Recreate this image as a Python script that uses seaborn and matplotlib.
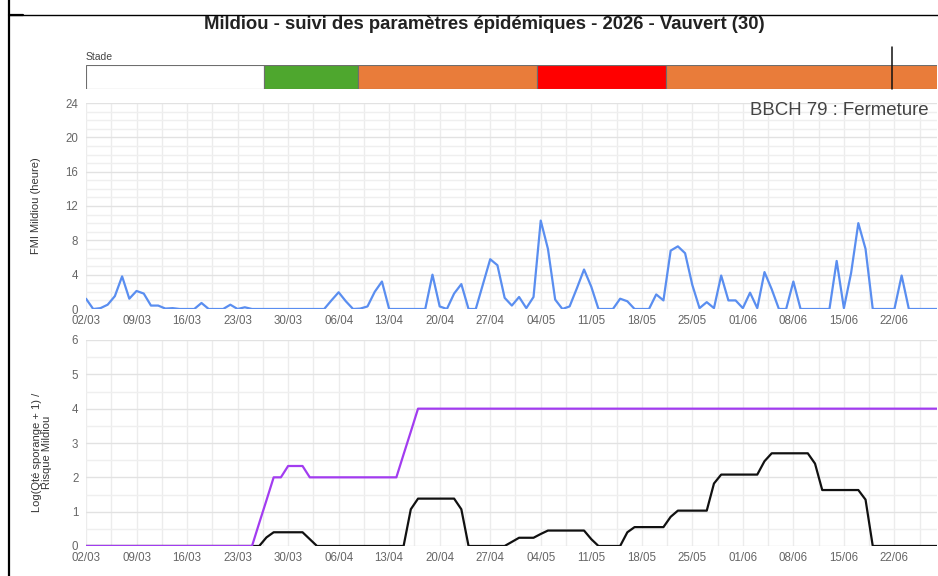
"""Mildiou - suivi des paramètres épidémiques (Vauvert 2026)."""

import matplotlib

matplotlib.use("Agg", force=True)

import matplotlib.dates as mdates
import matplotlib.pyplot as plt
import numpy as np
import pandas as pd
import seaborn as sns
from matplotlib.lines import Line2D
from matplotlib.ticker import FixedLocator, MultipleLocator

# --- data (one value per day from 02/03) ---
date_debut = "2026-03-02"

fmi_heures = [
    1.2, 0.0, 0.1, 0.5, 1.5, 3.8, 1.2, 2.1, 1.8, 0.4,
    0.4, 0.05, 0.1, 0.0, 0.0, 0.0, 0.7, 0.0, 0.0, 0.0,
    0.5, 0.0, 0.2, 0.0, 0.0, 0.0, 0.0, 0.0, 0.0, 0.0,
    0.0, 0.0, 0.0, 0.0, 1.0, 1.95, 0.9, 0.0, 0.05, 0.3,
    2.0, 3.2, 0.0, 0.0, 0.0, 0.0, 0.0, 0.0, 4.0, 0.3,
    0.0, 1.8, 2.9, 0.0, 0.0, 2.9, 5.8, 5.1, 1.3, 0.4,
    1.4, 0.1, 1.4, 10.3, 7.0, 1.1, 0.0, 0.3, 2.4, 4.6,
    2.6, 0.0, 0.0, 0.0, 1.2, 0.9, 0.0, 0.0, 0.0, 1.7,
    1.0, 6.8, 7.3, 6.5, 2.8, 0.1, 0.8, 0.1, 3.9, 1.0,
    1.0, 0.1, 1.9, 0.1, 4.3, 2.3, 0.0, 0.0, 3.2, 0.0,
    0.0, 0.0, 0.0, 0.0, 5.6, 0.1, 4.2, 10.0, 7.0, 0.0,
    0.0, 0.0, 0.0, 3.9, 0.0, 0.0, 0.0, 0.0, 0.0,
]

risque_mildiou = [
    0, 0, 0, 0, 0, 0, 0, 0, 0, 0,
    0, 0, 0, 0, 0, 0, 0, 0, 0, 0,
    0, 0, 0, 0, 0.67, 1.33, 2.0, 2.0, 2.33, 2.33,
    2.33, 2.0, 2.0, 2.0, 2.0, 2.0, 2.0, 2.0, 2.0, 2.0,
    2.0, 2.0, 2.0, 2.0, 2.67, 3.33, 4, 4, 4, 4,
    4, 4, 4, 4, 4, 4, 4, 4, 4, 4,
    4, 4, 4, 4, 4, 4, 4, 4, 4, 4,
    4, 4, 4, 4, 4, 4, 4, 4, 4, 4,
    4, 4, 4, 4, 4, 4, 4, 4, 4, 4,
    4, 4, 4, 4, 4, 4, 4, 4, 4, 4,
    4, 4, 4, 4, 4, 4, 4, 4, 4, 4,
    4, 4, 4, 4, 4, 4, 4, 4, 4,
]

log_sporange = [
    0, 0, 0, 0, 0, 0, 0, 0, 0, 0,
    0, 0, 0, 0, 0, 0, 0, 0, 0, 0,
    0, 0, 0, 0, 0, 0.25, 0.4, 0.4, 0.4, 0.4,
    0.4, 0.2, 0, 0, 0, 0, 0, 0, 0, 0,
    0, 0, 0, 0, 0, 1.07, 1.38, 1.38, 1.38, 1.38,
    1.38, 1.38, 1.07, 0, 0, 0, 0, 0, 0, 0.12,
    0.24, 0.24, 0.24, 0.35, 0.45, 0.45, 0.45, 0.45, 0.45, 0.45,
    0.2, 0, 0, 0, 0, 0.4, 0.55, 0.55, 0.55, 0.55,
    0.55, 0.85, 1.03, 1.03, 1.03, 1.03, 1.03, 1.82, 2.08, 2.08,
    2.08, 2.08, 2.08, 2.08, 2.47, 2.7, 2.7, 2.7, 2.7, 2.7,
    2.7, 2.4, 1.63, 1.63, 1.63, 1.63, 1.63, 1.63, 1.35, 0,
    0, 0, 0, 0, 0, 0, 0, 0, 0,
]

stade_debuts = [
    "2026-03-02 00:00",
    "2026-03-26 16:00",
    "2026-04-08 17:00",
    "2026-05-03 10:00",
    "2026-05-21 07:00",
]
stade_fin = "2026-07-05 00:00"
stade_couleurs = ["#ffffff", "#4ea72e", "#e97c3a", "#ff0000", "#e97c3a"]
date_marqueur = "2026-06-21 16:00"

titre = "Mildiou - suivi des paramètres épidémiques - 2026 - Vauvert (30)"
texte_stade = "BBCH 79 : Fermeture"
label_fmi = "FMI Mildiou (heure)"
label_risque = "Log(Qté sporange + 1) /\nRisque Mildiou"
date_fin_axe = "2026-06-27 21:36"

# --- frame ---
sns.set_theme(style="white")
plt.rcParams["font.family"] = ["Liberation Sans", "DejaVu Sans"]

dates = pd.date_range(date_debut, periods=len(fmi_heures), freq="D")
df = pd.DataFrame(
    {"date": dates, "fmi": fmi_heures, "risque": risque_mildiou, "sporange": log_sporange}
)

W, H = 938, 576
fig = plt.figure(figsize=(W / 100, H / 100), dpi=100)


def box(left, top, right, bottom):
    return [left / W, 1 - bottom / H, (right - left) / W, (bottom - top) / H]


ax_stade = fig.add_axes(box(86, 65, 937, 89))
ax_fmi = fig.add_axes(box(86, 103, 937, 309))
ax_risk = fig.add_axes(box(86, 340, 937, 546))

x0 = mdates.date2num(pd.Timestamp(date_debut))
x1 = mdates.date2num(pd.Timestamp(date_fin_axe))

# stage bar
starts = mdates.date2num(pd.to_datetime(stade_debuts))
ends = np.append(starts[1:], mdates.date2num(pd.Timestamp(stade_fin)))
ax_stade.barh(
    [0] * len(starts),
    ends - starts,
    left=starts,
    height=1.0,
    color=stade_couleurs,
    edgecolor="#6e6e6e",
    linewidth=0.8,
)
ax_stade.axvline(
    mdates.date2num(pd.Timestamp(date_marqueur)),
    ymin=0,
    ymax=1.75,
    color="#111111",
    linewidth=1.1,
    clip_on=False,
)
ax_stade.set_xlim(x0, x1)
ax_stade.set_ylim(-0.5, 0.5)
ax_stade.axis("off")

# lines
sns.lineplot(data=df, x="date", y="fmi", ax=ax_fmi, color="#5a8ef0", linewidth=1.6)
sns.lineplot(data=df, x="date", y="sporange", ax=ax_risk, color="#111111", linewidth=1.6)
sns.lineplot(data=df, x="date", y="risque", ax=ax_risk, color="#a23cf0", linewidth=1.6)

minor_x = np.arange(x0, x1 + 0.01, 3.5)
for ax, ymax, ymaj, ymin in [(ax_fmi, 24, 4, 1), (ax_risk, 6, 1, 0.5)]:
    ax.set_xlim(x0, x1)
    ax.set_ylim(0, ymax)
    ax.xaxis.set_major_locator(mdates.WeekdayLocator(byweekday=mdates.MO))
    ax.xaxis.set_major_formatter(mdates.DateFormatter("%d/%m"))
    ax.xaxis.set_minor_locator(FixedLocator(minor_x))
    ax.yaxis.set_major_locator(MultipleLocator(ymaj))
    ax.yaxis.set_minor_locator(MultipleLocator(ymin))
    ax.grid(which="both", axis="x", color="#ececec", linewidth=1.0)
    ax.grid(which="major", axis="y", color="#e2e2e2", linewidth=1.0)
    ax.grid(which="minor", axis="y", color="#efefef", linewidth=1.0)
    ax.set_axisbelow(True)
    ax.tick_params(axis="both", which="both", length=0, labelsize=8.3, labelcolor="#666666")
    ax.tick_params(axis="x", pad=4.5)
    ax.tick_params(axis="y", pad=5.5)
    ax.set_xlabel("")
    ax.set_ylabel("")
    for spine in ax.spines.values():
        spine.set_visible(False)

fig.text(36 / W, 1 - 206 / H, label_fmi, rotation=90, ha="center", va="center",
         fontsize=8, color="#333333")
fig.text(42 / W, 1 - 452 / H, label_risque, rotation=90, ha="center", va="center",
         multialignment="center", linespacing=1.1, fontsize=8, color="#333333")

ax_fmi.text(
    0.9906, 0.966, texte_stade, transform=ax_fmi.transAxes,
    ha="right", va="center", fontsize=13.4, color="#444444",
)

fig.text(0.516, 1 - 24.5 / H, titre, ha="center", va="center",
         fontsize=13.3, fontweight="bold", color="#222222")
fig.text(86 / W, 1 - 57 / H, "Stade", ha="left", va="center", fontsize=7.5, color="#444444")

# screenshot border
fig.add_artist(Line2D([8.5 / W, 8.5 / W], [0, 1], transform=fig.transFigure,
                      color="black", linewidth=1.6))
fig.add_artist(Line2D([8.5 / W, 1], [1 - 14.5 / H, 1 - 14.5 / H], transform=fig.transFigure,
                      color="black", linewidth=1.0))
fig.add_artist(Line2D([8.5 / W, 23 / W], [1 - 15 / H, 1 - 15 / H], transform=fig.transFigure,
                      color="black", linewidth=1.6))

fig.savefig("out.png", dpi=100)
